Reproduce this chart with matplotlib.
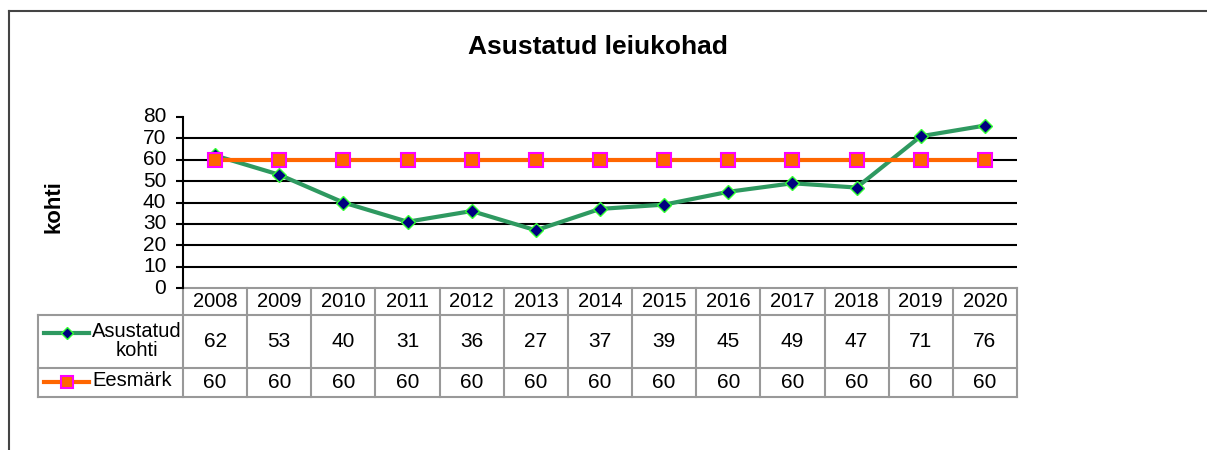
import matplotlib.pyplot as plt
import matplotlib.transforms as mtransforms
from matplotlib.lines import Line2D

plt.rcParams['font.family'] = ['Liberation Sans', 'DejaVu Sans']

years = ['2008', '2009', '2010', '2011', '2012', '2013', '2014',
         '2015', '2016', '2017', '2018', '2019', '2020']
asustatud = [62, 53, 40, 31, 36, 27, 37, 39, 45, 49, 47, 71, 76]
eesmark = [60, 60, 60, 60, 60, 60, 60, 60, 60, 60, 60, 60, 60]
series_names = ['Asustatud\nkohti', 'Eesmärk']

W, H = 1207, 450
fig = plt.figure(figsize=(W / 100, H / 100), dpi=100)


def fy(p):
    # pixel row -> figure fraction
    return 1 - p / H


# outer frame (top and left only visible)
fig.add_artist(Line2D([9 / W, 1], [fy(11), fy(11)], color='#444444', lw=1.5))
fig.add_artist(Line2D([9 / W, 9 / W], [fy(11), 0], color='#444444', lw=1.5))

left, right, top, bottom = 183, 1017, 117, 288
ax = fig.add_axes([left / W, fy(bottom), (right - left) / W, (bottom - top) / H])

x = list(range(len(years)))
green = '#2E9960'
orange = '#FF6600'
ax.plot(x, asustatud, color=green, lw=3, marker='D', ms=7,
        mfc='#000080', mec='#33FF33', mew=1, zorder=3)
ax.plot(x, eesmark, color=orange, lw=3, marker='s', ms=9.5,
        mfc=orange, mec='#FF00FF', mew=1.5, zorder=4)

ax.set_xlim(-0.5, len(years) - 0.5)
ax.set_ylim(0, 80)
ax.set_yticks(range(0, 90, 10))
ax.set_xticks([])
for v in range(10, 80, 10):
    ax.axhline(v, color='black', lw=1.5, zorder=1)
for s in ['top', 'right', 'bottom']:
    ax.spines[s].set_visible(False)
ax.spines['left'].set_linewidth(1.5)
ax.tick_params(axis='y', length=5, width=1.5, labelsize=15, pad=7)
for lab in ax.get_yticklabels():
    lab.set_verticalalignment('center')

fig.text(54 / W, fy(207), 'kohti', rotation=90, fontsize=16,
         fontweight='bold', ha='center', va='center')
fig.text(598 / W, fy(47), 'Asustatud leiukohad', fontsize=19,
         fontweight='bold', ha='center', va='center')

# data table under the axis
tr = mtransforms.blended_transform_factory(ax.transData, fig.transFigure)
grey = '#999999'
rows = [288, 315, 368, 397]
xl = -0.5 - (left - 38) / ((right - left) / len(years))


def hline(x0, x1, p):
    ax.add_line(Line2D([x0, x1], [fy(p), fy(p)], transform=tr, color=grey,
                       lw=1.5, clip_on=False))


def vline(xv, p0, p1):
    ax.add_line(Line2D([xv, xv], [fy(p0), fy(p1)], transform=tr, color=grey,
                       lw=1.5, clip_on=False))


hline(-0.5, len(years) - 0.5, rows[0])
for p in rows[1:]:
    hline(xl, len(years) - 0.5, p)
for i in range(len(years) + 1):
    vline(i - 0.5, rows[0], rows[3])
vline(xl, rows[1], rows[3])

for i, yr in enumerate(years):
    ax.text(i, fy((rows[0] + rows[1]) / 2), yr, transform=tr, fontsize=14.5,
            ha='center', va='center')
    ax.text(i, fy((rows[1] + rows[2]) / 2), str(asustatud[i]), transform=tr,
            fontsize=15, ha='center', va='center')
    ax.text(i, fy((rows[2] + rows[3]) / 2), str(eesmark[i]), transform=tr,
            fontsize=15, ha='center', va='center')

# legend keys inside the table
ky1 = fy(333)
ky2 = fy(382)
fig.add_artist(Line2D([44 / W, 89 / W], [ky1, ky1], color=green, lw=3))
fig.add_artist(Line2D([67 / W], [ky1], marker='D', ms=6, mfc='#000080',
                      mec='#33FF33', mew=1, lw=0))
fig.add_artist(Line2D([44 / W, 89 / W], [ky2, ky2], color=orange, lw=3))
fig.add_artist(Line2D([67 / W], [ky2], marker='s', ms=8, mfc=orange,
                      mec='#FF00FF', mew=1.5, lw=0))
fig.text(137 / W, fy(341), series_names[0], fontsize=14.5, ha='center',
         va='center', linespacing=0.95)
fig.text(92 / W, fy(381), series_names[1], fontsize=14.5, ha='left',
         va='center')

fig.savefig('out.png', dpi=100)
